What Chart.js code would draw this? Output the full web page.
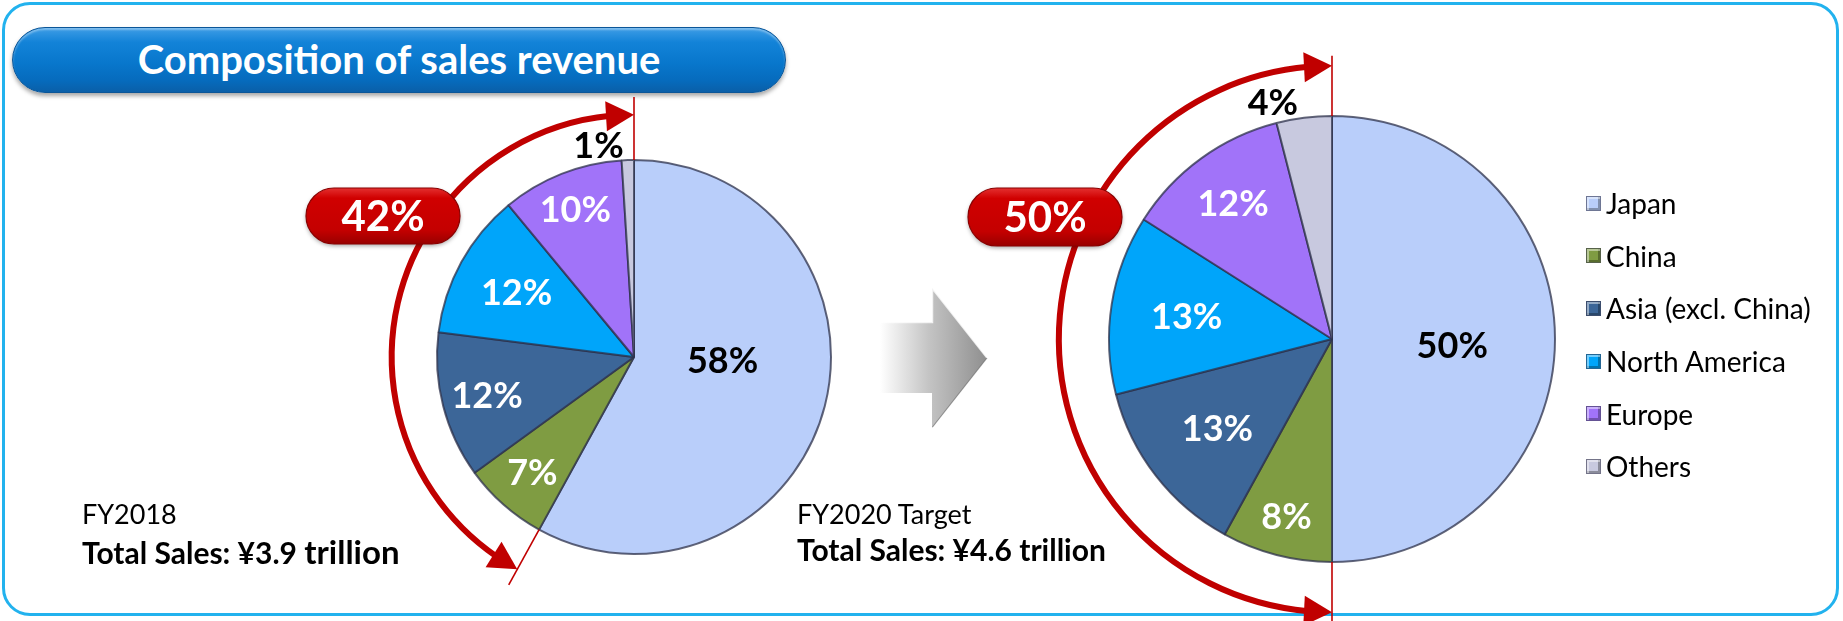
<!DOCTYPE html>
<html>
<head>
<meta charset="utf-8">
<title>Composition of sales revenue</title>
<script src="https://cdn.jsdelivr.net/npm/chart.js@4.4.1/dist/chart.umd.min.js"></script>
<style>
  html, body { margin: 0; padding: 0; background: #ffffff; }
  #stage {
    position: relative; width: 1843px; height: 621px; overflow: hidden;
    font-family: Lato, "Open Sans", "DejaVu Sans", sans-serif; color: #000;
  }
  #frame {
    position: absolute; left: 2px; top: 2px; width: 1837px; height: 614px;
    box-sizing: border-box; border: 3px solid #22b2ee; border-radius: 28px;
  }
  #banner {
    position: absolute; left: 12px; top: 27px; width: 774px; height: 66px;
    box-sizing: border-box; border-radius: 33px;
    background: linear-gradient(180deg, #3e9de6 0%, #1383d8 22%, #0877cc 55%, #066bbd 82%, #0a5fa8 100%);
    border: 1px solid #0b5698;
    box-shadow: 0 3px 4px rgba(0, 0, 0, 0.35), inset 0 2px 2px rgba(255, 255, 255, 0.35);
    color: #ffffff; font-weight: 700; font-size: 40px; line-height: 63px; text-align: center;
  }
  canvas.layer { position: absolute; left: 0; top: 0; }
  #arrowSvg { position: absolute; left: 0; top: 0; }
  .period { position: absolute; font-size: 27px; line-height: 32px; white-space: nowrap; }
  .total { position: absolute; font-size: 30px; line-height: 34px; font-weight: 700; white-space: nowrap; }
  #legend { position: absolute; left: 1586px; top: 189px; }
  .item { height: 52.6px; display: flex; align-items: center; font-size: 28px; white-space: nowrap; position: relative; top: -12px; }
  .swatch {
    width: 15px; height: 15px; box-sizing: border-box; margin-right: 5px; flex: none;
    box-shadow: inset 2px 2px 0 rgba(255, 255, 255, 0.45), inset -2px -2px 0 rgba(0, 0, 0, 0.3);
    border: 1px solid rgba(60, 60, 80, 0.6);
  }
</style>
</head>
<body>
<div id="stage">
  <div id="frame"></div>
  <div id="banner">Composition of sales revenue</div>

  <svg id="arrowSvg" width="1843" height="621" viewBox="0 0 1843 621">
    <defs>
      <linearGradient id="stepGrad" gradientUnits="userSpaceOnUse" x1="880" y1="0" x2="988" y2="0">
        <stop offset="0" stop-color="#ffffff"/>
        <stop offset="0.45" stop-color="#c4c4c4"/>
        <stop offset="1" stop-color="#8e8e8e"/>
      </linearGradient>
    </defs>
    <polygon points="880,322 932,322 932,288 987,358 932,428 932,393 880,393" fill="url(#stepGrad)"/>
    <polyline points="880,322.5 932.5,322.5 932.5,289 987,358" fill="none" stroke="rgba(255,255,255,0.8)" stroke-width="1.5"/>
    <polyline points="987,358 932.5,427" fill="none" stroke="rgba(90,90,90,0.5)" stroke-width="1.2"/>
  </svg>

  <canvas id="pieFY2018" class="layer" width="1843" height="621"></canvas>
  <canvas id="pieFY2020" class="layer" width="1843" height="621" style="pointer-events:none"></canvas>

  <div class="period" style="left:82px;top:498px" id="period0"></div>
  <div class="total" style="left:82px;top:534px" id="total0"></div>
  <div class="period" style="left:797px;top:498px" id="period1"></div>
  <div class="total" style="left:797px;top:532px" id="total1"></div>

  <div id="legend"></div>
</div>

<script>
// Regions, in drawing order (clockwise from 12 o'clock)
const categories = ['Japan', 'China', 'Asia (excl. China)', 'North America', 'Europe', 'Others'];

// Share of sales revenue by region, percent
const sharesFY2018 = [58, 7, 12, 12, 10, 1];
const sharesFY2020 = [50, 8, 13, 13, 12, 4];

// Period captions and total sales (trillion yen)
const periodLabels = ['FY2018', 'FY2020 Target'];
const totalSalesTrillionYen = [3.9, 4.6];

// Slice colours and the colour of the percentage printed on each slice
const regionColors = ['#b9cefa', '#7f9c42', '#3c6698', '#00a5fa', '#a173f9', '#c8c9df'];
const labelColors = ['#000000', '#ffffff', '#ffffff', '#ffffff', '#ffffff', '#000000'];

const FONT = 'Lato, "Open Sans", sans-serif';
const RED = '#c00000';

// Captions below each pie
periodLabels.forEach((p, i) => {
  document.getElementById('period' + i).textContent = p;
  const t = document.getElementById('total' + i);
  t.innerHTML = 'Total Sales: ¥' + totalSalesTrillionYen[i].toFixed(1) + ' ' +
    (i === 0 ? '<span style="font-size:1.1em">trillion</span>' : 'trillion');
});

// Shared legend
const legend = document.getElementById('legend');
categories.forEach((c, i) => {
  const row = document.createElement('div');
  row.className = 'item';
  const sw = document.createElement('span');
  sw.className = 'swatch';
  sw.style.background = regionColors[i];
  row.appendChild(sw);
  row.appendChild(document.createTextNode(c));
  legend.appendChild(row);
});

// Red double-headed bracket spanning every slice outside Japan
const overseasBracket = {
  id: 'overseasBracket',
  afterDatasetsDraw(chart, _args, o) {
    const ctx = chart.ctx;
    const jp = chart.getDatasetMeta(0).data[0];
    const cx = jp.x, cy = jp.y, r = jp.outerRadius;
    const a0 = jp.endAngle;                 // end of the Japan slice
    const a1 = jp.startAngle + Math.PI * 2; // back at 12 o'clock
    const R = r * o.arcScale;
    ctx.save();
    ctx.strokeStyle = RED;
    ctx.fillStyle = RED;
    // radial guide lines at both ends
    ctx.lineWidth = 1.6;
    [a0, a1].forEach(a => {
      ctx.beginPath();
      ctx.moveTo(cx + Math.cos(a) * r, cy + Math.sin(a) * r);
      ctx.lineTo(cx + Math.cos(a) * r * o.guideScale, cy + Math.sin(a) * r * o.guideScale);
      ctx.stroke();
    });
    // the arc itself
    const da = o.headLength / R;
    ctx.lineWidth = o.arcWidth;
    ctx.beginPath();
    ctx.arc(cx, cy, R, a0 + da * 0.85, a1 - da * 0.85);
    ctx.stroke();
    // arrow heads
    const head = (a, dir) => {
      const tx = cx + Math.cos(a) * R, ty = cy + Math.sin(a) * R;
      const b = a - dir * da;
      const bx = cx + Math.cos(b) * R, by = cy + Math.sin(b) * R;
      const len = Math.hypot(tx - bx, ty - by);
      const ux = (tx - bx) / len, uy = (ty - by) / len;
      const nx = -uy * o.headHalfWidth, ny = ux * o.headHalfWidth;
      ctx.beginPath();
      ctx.moveTo(tx, ty);
      ctx.lineTo(bx + nx, by + ny);
      ctx.lineTo(bx - nx, by - ny);
      ctx.closePath();
      ctx.fill();
    };
    head(a1, 1);
    head(a0, -1);
    ctx.restore();
  }
};

// Percentage printed on (or just outside) each slice
const sliceLabels = {
  id: 'sliceLabels',
  afterDatasetsDraw(chart, _args, o) {
    const ctx = chart.ctx;
    const values = chart.data.datasets[0].data;
    const total = values.reduce((s, v) => s + v, 0);
    ctx.save();
    ctx.font = `700 ${o.size}px ${FONT}`;
    ctx.textAlign = 'center';
    ctx.textBaseline = 'alphabetic';
    chart.getDatasetMeta(0).data.forEach((arc, i) => {
      const p = o.place[i];
      const ang = p.deg != null ? (p.deg - 90) * Math.PI / 180 : (arc.startAngle + arc.endAngle) / 2;
      const d = arc.outerRadius * p.f;
      const x = arc.x + Math.cos(ang) * d;
      const y = arc.y + Math.sin(ang) * d;
      ctx.fillStyle = labelColors[i];
      ctx.fillText(Math.round(values[i] / total * 100) + '%', x, y + o.size * 0.36);
    });
    ctx.restore();
  }
};

// Red pill with the combined overseas share
const overseasPill = {
  id: 'overseasPill',
  afterDraw(chart, _args, o) {
    const ctx = chart.ctx;
    const values = chart.data.datasets[0].data;
    const total = values.reduce((s, v) => s + v, 0);
    const share = Math.round((total - values[0]) / total * 100);
    const jp = chart.getDatasetMeta(0).data[0];
    const x = jp.x + o.dx - o.w / 2, y = jp.y + o.dy - o.h / 2, w = o.w, h = o.h, rr = h / 2;
    ctx.save();
    const path = () => {
      ctx.beginPath();
      ctx.moveTo(x + rr, y);
      ctx.lineTo(x + w - rr, y);
      ctx.arc(x + w - rr, y + rr, rr, -Math.PI / 2, Math.PI / 2);
      ctx.lineTo(x + rr, y + h);
      ctx.arc(x + rr, y + rr, rr, Math.PI / 2, Math.PI * 1.5);
      ctx.closePath();
    };
    const g = ctx.createLinearGradient(0, y, 0, y + h);
    g.addColorStop(0, '#e43030');
    g.addColorStop(0.18, '#d00000');
    g.addColorStop(0.75, '#c40000');
    g.addColorStop(1, '#980000');
    ctx.shadowColor = 'rgba(0,0,0,0.35)';
    ctx.shadowBlur = 4;
    ctx.shadowOffsetY = 2;
    path();
    ctx.fillStyle = g;
    ctx.fill();
    ctx.shadowColor = 'transparent';
    ctx.lineWidth = 1.2;
    ctx.strokeStyle = '#8a0000';
    ctx.stroke();
    ctx.font = `700 ${o.size}px ${FONT}`;
    ctx.textAlign = 'center';
    ctx.textBaseline = 'alphabetic';
    ctx.fillStyle = '#ffffff';
    ctx.fillText(share + '%', x + w / 2, y + h / 2 + o.size * 0.36);
    ctx.restore();
  }
};

// One pie per period; layout padding places each pie on the shared page
function makePie(canvasId, values, geo, labelPlace, pill, bracket) {
  const W = 1843, H = 621, bw = 2;
  const half = geo.r + bw / 2;
  return new Chart(document.getElementById(canvasId), {
    type: 'pie',
    data: {
      labels: categories,
      datasets: [{
        data: values,
        backgroundColor: regionColors,
        borderColor: 'rgba(45, 50, 75, 0.75)',
        borderWidth: bw,
        hoverOffset: 0
      }]
    },
    options: {
      responsive: false,
      animation: false,
      events: [],
      layout: {
        padding: {
          left: geo.cx - half,
          right: W - (geo.cx + half),
          top: geo.cy - half,
          bottom: H - (geo.cy + half)
        }
      },
      plugins: {
        legend: { display: false },
        tooltip: { enabled: false },
        overseasBracket: bracket,
        sliceLabels: { size: 36, place: labelPlace },
        overseasPill: pill
      }
    },
    plugins: [overseasBracket, sliceLabels, overseasPill]
  });
}

makePie('pieFY2018', sharesFY2018,
  { cx: 634, cy: 357, r: 197 },
  [{ f: 0.45, deg: 92 }, { f: 0.78 }, { f: 0.77 }, { f: 0.68 }, { f: 0.81 }, { f: 1.09, deg: 350.5 }],
  { dx: -251, dy: -141, w: 154, h: 56, size: 42 },
  { arcScale: 1.23, guideScale: 1.32, arcWidth: 6, headLength: 28, headHalfWidth: 15 });

makePie('pieFY2020', sharesFY2020,
  { cx: 1332, cy: 339, r: 223 },
  [{ f: 0.54, deg: 93 }, { f: 0.82 }, { f: 0.65 }, { f: 0.66 }, { f: 0.755 }, { f: 1.095, deg: 346 }],
  { dx: -287, dy: -122, w: 154, h: 58, size: 42 },
  { arcScale: 1.225, guideScale: 1.27, arcWidth: 6, headLength: 28, headHalfWidth: 15 });
</script>
</body>
</html>
